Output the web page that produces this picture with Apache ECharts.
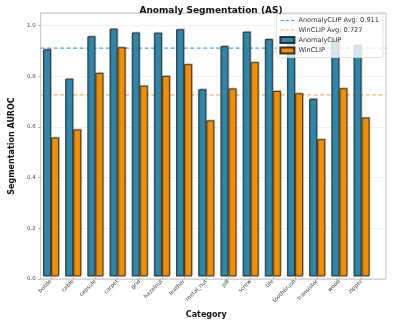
<!DOCTYPE html>
<html lang="en">
<head>
    <meta charset="UTF-8">
    <title>Anomaly Segmentation (AS)</title>
    <script src="https://cdn.jsdelivr.net/npm/echarts@6/dist/echarts.min.js"></script>
    <style>
        html, body { margin: 0; padding: 0; background: #fff; }
        #main { width: 397px; height: 324px; }
    </style>
</head>
<body>
    <div id="main"></div>
    <script>
        var categories = ['bottle', 'cable', 'capsule', 'carpet', 'grid', 'hazelnut', 'leather', 'metal_nut',
            'pill', 'screw', 'tile', 'toothbrush', 'transistor', 'wood', 'zipper'];
        var anomalyClip = [0.905, 0.788, 0.957, 0.987, 0.972, 0.971, 0.985, 0.746,
            0.918, 0.975, 0.946, 0.940, 0.708, 0.945, 0.922];
        var winClip = [0.554, 0.586, 0.811, 0.913, 0.760, 0.799, 0.846, 0.622,
            0.749, 0.854, 0.739, 0.730, 0.547, 0.750, 0.633];
        var anomalyAvg = 0.911;
        var winAvg = 0.727;
        var yTicks = [0, 0.2, 0.4, 0.6, 0.8, 1.0];

        var font = 'DejaVu Sans';
        // dashed line icon for the legend
        var dashIcon = 'path://M0,0h4v1.2h-4z M6,0h4v1.2h-4z M12,0h4v1.2h-4z';

        var chart = echarts.init(document.getElementById('main'));

        var barStyle = {
            borderColor: 'rgba(25,25,25,0.85)', borderWidth: 0.9,
            shadowColor: 'rgba(0,0,0,0.22)', shadowBlur: 0, shadowOffsetX: 1, shadowOffsetY: -1
        };

        var option = {
            animation: false,
            textStyle: { fontFamily: font },
            title: {
                text: 'Anomaly Segmentation (AS)',
                left: 206, top: 1, textAlign: 'center',
                textStyle: { fontFamily: font, fontSize: 9, fontWeight: 'bold', color: '#111' }
            },
            legend: {
                orient: 'vertical',
                right: 14, top: 14,
                itemWidth: 14, itemHeight: 6, itemGap: 2.5,
                padding: [3, 4, 3, 3],
                backgroundColor: 'rgba(255,255,255,0.8)',
                borderColor: '#d8d8d8', borderWidth: 0.8, borderRadius: 2,
                textStyle: { fontFamily: font, fontSize: 6.6, color: '#333', padding: [0, 0, 0, -1] },
                data: [
                    { name: 'AnomalyCLIP Avg: ' + anomalyAvg.toFixed(3), icon: dashIcon,
                      itemStyle: { color: 'rgba(46,150,200,0.85)', borderWidth: 0 } },
                    { name: 'WinCLIP Avg: ' + winAvg.toFixed(3), icon: dashIcon,
                      itemStyle: { color: 'rgba(245,150,30,0.7)', borderWidth: 0 } },
                    { name: 'AnomalyCLIP', icon: 'rect' },
                    { name: 'WinCLIP', icon: 'rect' }
                ]
            },
            grid: [
                // frame + y axis + average lines
                { left: 27, right: 11, top: 13, bottom: 45,
                  show: true, borderColor: '#c4c4c4', borderWidth: 1 },
                // bars, category centres spaced like the reference
                { left: 39.9, width: 332.7, top: 13, bottom: 45 }
            ],
            xAxis: [
                { gridIndex: 0, type: 'value', min: 0, max: 1, show: false },
                {
                    gridIndex: 1, type: 'category', data: categories,
                    name: 'Category', nameLocation: 'middle', nameGap: 34,
                    nameTextStyle: { fontFamily: font, fontSize: 8, fontWeight: 'bold', color: '#111' },
                    axisLine: { show: false },
                    splitLine: { show: false },
                    axisTick: { show: true, alignWithLabel: true, length: 2.5,
                        lineStyle: { color: '#888', width: 0.6 } },
                    axisLabel: { rotate: 45, fontSize: 5.5, color: '#444', margin: 4, interval: 0 }
                }
            ],
            yAxis: [
                {
                    gridIndex: 0, type: 'value', min: 0, max: 1.05, interval: 0.2,
                    name: 'Segmentation AUROC', nameLocation: 'middle', nameGap: 17,
                    nameTextStyle: { fontFamily: font, fontSize: 8, fontWeight: 'bold', color: '#111' },
                    axisLine: { show: false },
                    axisTick: { show: true, length: 2.5, lineStyle: { color: '#888', width: 0.6 } },
                    axisLabel: {
                        fontSize: 5.5, color: '#444', margin: 5, showMaxLabel: false,
                        formatter: function (v) { return yTicks.indexOf(+v.toFixed(2)) >= 0 ? v.toFixed(1) : ''; }
                    },
                    splitLine: { show: true, lineStyle: { color: 'rgba(0,0,0,0.07)', width: 0.8 } }
                },
                { gridIndex: 1, type: 'value', min: 0, max: 1.05, show: false, splitLine: { show: false } }
            ],
            series: [
                {
                    name: 'AnomalyCLIP Avg: ' + anomalyAvg.toFixed(3),
                    type: 'line', xAxisIndex: 0, yAxisIndex: 0, z: 1,
                    symbol: 'none', silent: true,
                    lineStyle: { color: 'rgba(46,150,200,0.85)', width: 1.3, type: [4, 2.5] },
                    data: [[0, anomalyAvg], [1, anomalyAvg]]
                },
                {
                    name: 'WinCLIP Avg: ' + winAvg.toFixed(3),
                    type: 'line', xAxisIndex: 0, yAxisIndex: 0, z: 1,
                    symbol: 'none', silent: true,
                    lineStyle: { color: 'rgba(245,150,30,0.7)', width: 1.3, type: [4, 2.5] },
                    data: [[0, winAvg], [1, winAvg]]
                },
                {
                    name: 'AnomalyCLIP', type: 'bar', xAxisIndex: 1, yAxisIndex: 1, z: 3,
                    barWidth: 8, barGap: '0%',
                    itemStyle: Object.assign({ color: '#2E86AB' }, barStyle),
                    data: anomalyClip
                },
                {
                    name: 'WinCLIP', type: 'bar', xAxisIndex: 1, yAxisIndex: 1, z: 3,
                    barWidth: 8, barGap: '0%',
                    itemStyle: Object.assign({ color: '#F18F01' }, barStyle),
                    data: winClip
                }
            ]
        };

        chart.setOption(option);
    </script>
</body>
</html>
